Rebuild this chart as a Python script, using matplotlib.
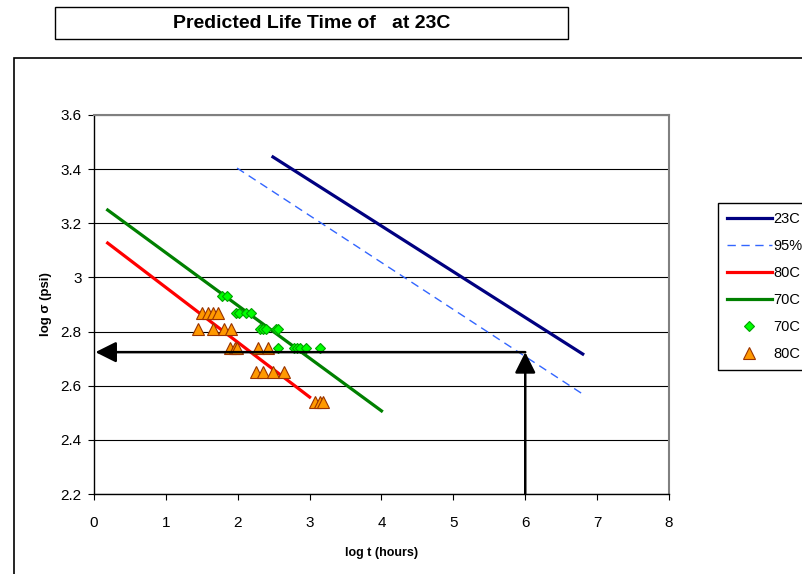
import matplotlib.pyplot as plt
from matplotlib.patches import Rectangle

plt.rcParams['font.family'] = ['Liberation Sans', 'DejaVu Sans']

# --- fitted lines (log t, log sigma) ---
line_23c_x = [2.49, 6.80]
line_23c_y = [3.445, 2.717]
line_95_x = [1.99, 6.80]
line_95_y = [3.404, 2.569]
line_80c_x = [0.19, 3.00]
line_80c_y = [3.127, 2.558]
line_70c_x = [0.19, 4.00]
line_70c_y = [3.249, 2.507]

# --- measured points ---
pts_70c_x = [1.78, 1.85, 1.98, 2.02, 2.11, 2.18,
             2.31, 2.35, 2.40, 2.53, 2.56,
             2.56, 2.78, 2.82, 2.87, 2.95, 3.15]
pts_70c_y = [2.93, 2.93, 2.87, 2.87, 2.87, 2.87,
             2.81, 2.81, 2.81, 2.81, 2.81,
             2.74, 2.74, 2.74, 2.74, 2.74, 2.74]
pts_80c_x = [1.50, 1.58, 1.65, 1.73,
             1.45, 1.65, 1.81, 1.91,
             1.89, 1.96, 1.99, 2.28, 2.42,
             2.26, 2.35, 2.49, 2.64,
             3.07, 3.14, 3.19]
pts_80c_y = [2.87, 2.87, 2.87, 2.87,
             2.81, 2.81, 2.81, 2.81,
             2.74, 2.74, 2.74, 2.74, 2.74,
             2.65, 2.65, 2.65, 2.65,
             2.54, 2.54, 2.54]

# predicted life at design stress
target_logt = 6.0
target_logs = 2.724

# legend runs off the right edge in the original, only the start shows
labels = ['23C', '95%', '80C', '70C', '70C', '80C']

fig = plt.figure(figsize=(8.03, 5.74), dpi=100)
ax = fig.add_axes([94/803, 1 - 494/574, 575/803, 379/574])

ax.plot(line_23c_x, line_23c_y, color='#000080', lw=2.3, label=labels[0])
ax.plot(line_95_x, line_95_y, color='#3366FF', lw=1.0, dashes=(6, 4), label=labels[1])
ax.plot(line_80c_x, line_80c_y, color='#FF0000', lw=2.3, label=labels[2])
ax.plot(line_70c_x, line_70c_y, color='#008000', lw=2.3, label=labels[3])
ax.plot(pts_70c_x, pts_70c_y, 'D', ms=5.5, color='#00FF00', mec='#00A000', mew=0.8,
        ls='none', label=labels[4])
ax.plot(pts_80c_x, pts_80c_y, '^', ms=9, color='#FF9900', mec='#993300', mew=0.8,
        ls='none', label=labels[5])

head = dict(arrowstyle='-|>,head_length=0.9,head_width=0.45', mutation_scale=14,
            lw=1.8, color='black', shrinkA=0, shrinkB=0)
ax.annotate('', xy=(0.02, target_logs), xytext=(target_logt, target_logs), arrowprops=head)
ax.annotate('', xy=(target_logt, target_logs), xytext=(target_logt, 2.2), arrowprops=head)

ax.set_xlim(0, 8)
ax.set_ylim(2.2, 3.6)
ax.set_xticks(range(0, 9))
ax.set_yticks([2.2, 2.4, 2.6, 2.8, 3.0, 3.2, 3.4, 3.6])
ax.set_yticklabels(['2.2', '2.4', '2.6', '2.8', '3', '3.2', '3.4', '3.6'])
ax.tick_params(direction='out', length=4, width=0.8, labelsize=11)
ax.tick_params(axis='x', pad=12)
ax.tick_params(axis='y', pad=5)
ax.yaxis.grid(True, color='black', lw=0.8)
ax.set_axisbelow(True)
for s in ['top', 'right']:
    ax.spines[s].set_color('#808080')
    ax.spines[s].set_linewidth(1.5)
for s in ['left', 'bottom']:
    ax.spines[s].set_linewidth(1.0)

ax.set_xlabel('log t (hours)', fontsize=9, fontweight='bold', labelpad=12)
ax.set_ylabel('log σ (psi)', fontsize=9.5, fontweight='bold', labelpad=6)

# legend box stretched past the right edge, like the cropped original
ax.legend(loc='upper left', mode='expand',
          bbox_to_anchor=(718/803, 1 - 367/574, 0.25, 164/574),
          bbox_transform=fig.transFigure, fontsize=10.5, frameon=True,
          fancybox=False, edgecolor='black', framealpha=1, handlelength=3.1,
          handletextpad=0.1, borderpad=0.6, labelspacing=0.9, borderaxespad=0)

# chart area border and title box
fig.patches.append(Rectangle((14/803, -0.2), 1.0, 1 - 58/574 + 0.2, transform=fig.transFigure,
                             fill=False, ec='black', lw=1.2))
fig.patches.append(Rectangle((55/803, 1 - 39/574), 513/803, 32/574, transform=fig.transFigure,
                             fill=False, ec='black', lw=1.0))
fig.text(312/803, 1 - 23/574, 'Predicted Life Time of   at 23C', ha='center', va='center',
         fontsize=14, fontweight='bold')

fig.savefig('out.png', dpi=100)
